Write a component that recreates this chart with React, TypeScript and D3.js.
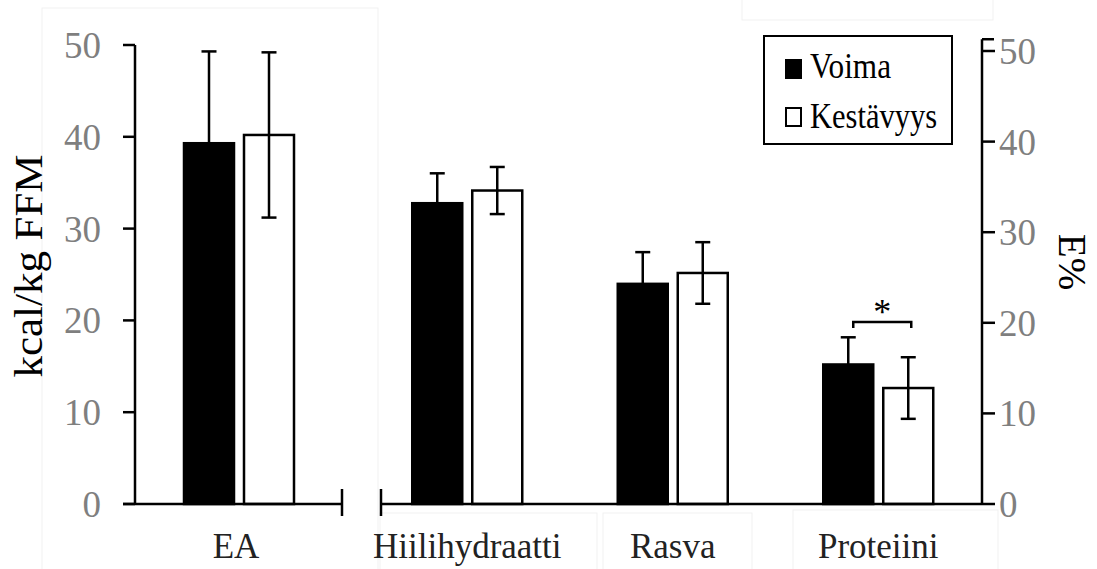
import React from "react";
import * as d3 from "d3";

// Energy availability (kcal/kg FFM) and macronutrient shares (E%) by athlete group
const series = ["Voima", "Kestävyys"];
const eaCategories = ["EA"];
const macroCategories = ["Hiilihydraatti", "Rasva", "Proteiini"];

const eaMeans = [
  [39.3, 40.2], // EA: Voima, Kestävyys
];
const eaSD = [
  [10.0, 9.0],
];

const macroMeans = [
  [33.2, 34.6], // Hiilihydraatti
  [24.3, 25.5], // Rasva
  [15.4, 12.8], // Proteiini
];
const macroSD = [
  [3.3, 2.6],
  [3.5, 3.4],
  [3.0, 3.4],
];

const leftTicks = [0, 10, 20, 30, 40, 50];
const rightTicks = [0, 10, 20, 30, 40, 50];
const rightAxisTop = 51.3;
const sigCategory = "Proteiini";
const sigLevel = 20.1;

const W = 1097;
const H = 569;
const FONT = "'Liberation Serif', 'Times New Roman', serif";
const TICK_GREY = "#7f7f7f";

export default function App() {
  const yL = d3.scaleLinear().domain([0, 50]).range([504, 45]);
  const yR = d3.scaleLinear().domain([0, 50]).range([504, 51]);
  const xEA = d3.scaleBand().domain(eaCategories).range([135, 343]);
  const xMac = d3.scaleBand().domain(macroCategories).range([364.5, 981]);
  const sub = d3.scaleBand().domain(series).range([-55, 55]).paddingInner(1 / 6);

  const axisLeftX = 135;
  const axisRightX = 982;
  const baseY = yL(0);
  const breakLeft = 342;
  const breakRight = 381;

  const drawGroup = (
    cat: string,
    center: number,
    means: number[],
    sds: number[],
    y: d3.ScaleLinear<number, number>
  ) =>
    series.map((s, j) => {
      const x0 = center + (sub(s) as number);
      const bw = sub.bandwidth();
      const cx = x0 + bw / 2;
      const m = means[j];
      const sd = sds[j];
      return (
        <g key={cat + s}>
          <rect
            x={x0}
            y={y(m)}
            width={bw}
            height={y(0) - y(m)}
            fill={j === 0 ? "#000" : "#fff"}
            stroke="#000"
            strokeWidth={2.5}
          />
          <line x1={cx} x2={cx} y1={y(m + sd)} y2={y(m - sd)} stroke="#000" strokeWidth={2.5} />
          <line x1={cx - 7.5} x2={cx + 7.5} y1={y(m + sd)} y2={y(m + sd)} stroke="#000" strokeWidth={2.5} />
          <line x1={cx - 7.5} x2={cx + 7.5} y1={y(m - sd)} y2={y(m - sd)} stroke="#000" strokeWidth={2.5} />
        </g>
      );
    });

  const sigCenter = xMac(sigCategory)! + xMac.bandwidth() / 2;
  const sigX1 = sigCenter + (sub(series[0]) as number) + sub.bandwidth() / 2 + 5;
  const sigX2 = sigCenter + (sub(series[1]) as number) + sub.bandwidth() / 2 + 3;

  return (
    <svg width={W} height={H} style={{ display: "block", background: "#fff" }} fontFamily={FONT}>
      <style>{`body{margin:0}`}</style>

      {/* faint frame edges of the pasted panels */}
      <g fill="none" stroke="#f1f1f1" strokeWidth={1}>
        <rect x={42} y={8} width={336} height={570} />
        <rect x={380} y={513} width={217} height={60} />
        <rect x={603} y={513} width={149} height={60} />
        <rect x={793} y={510} width={205} height={65} />
        <rect x={742} y={-5} width={251} height={25} />
      </g>

      {/* left axis */}
      <line x1={axisLeftX} x2={axisLeftX} y1={yL(50)} y2={baseY} stroke="#000" strokeWidth={2.5} />
      {leftTicks.map((t) => (
        <g key={"l" + t}>
          <line x1={axisLeftX - 12} x2={axisLeftX} y1={yL(t)} y2={yL(t)} stroke="#000" strokeWidth={2.5} />
          <text x={101} y={yL(t)} dy="0.35em" textAnchor="end" fontSize={37} fill={TICK_GREY}>
            {t}
          </text>
        </g>
      ))}

      {/* right axis */}
      <line x1={axisRightX} x2={axisRightX} y1={yR(rightAxisTop)} y2={baseY} stroke="#000" strokeWidth={2.5} />
      <line x1={axisRightX} x2={axisRightX + 12} y1={yR(rightAxisTop)} y2={yR(rightAxisTop)} stroke="#000" strokeWidth={2.5} />
      {rightTicks.map((t) => (
        <g key={"r" + t}>
          <line x1={axisRightX} x2={axisRightX + 13} y1={yR(t)} y2={yR(t)} stroke="#000" strokeWidth={2.5} />
          <text x={999} y={yR(t)} dy="0.35em" textAnchor="start" fontSize={37} fill={TICK_GREY}>
            {t}
          </text>
        </g>
      ))}

      {/* bars */}
      {eaCategories.map((c, i) => drawGroup(c, xEA(c)! + xEA.bandwidth() / 2, eaMeans[i], eaSD[i], yL))}
      {macroCategories.map((c, i) =>
        drawGroup(c, xMac(c)! + xMac.bandwidth() / 2, macroMeans[i], macroSD[i], yR)
      )}

      {/* broken baseline */}
      <line x1={axisLeftX - 12} x2={breakLeft} y1={baseY} y2={baseY} stroke="#000" strokeWidth={2.5} />
      <line x1={breakLeft} x2={breakLeft} y1={baseY - 15} y2={baseY + 12} stroke="#000" strokeWidth={2.5} />
      <line x1={breakRight} x2={axisRightX} y1={baseY} y2={baseY} stroke="#000" strokeWidth={2.5} />
      <line x1={breakRight} x2={breakRight} y1={baseY - 15} y2={baseY + 12} stroke="#000" strokeWidth={2.5} />

      {/* category labels */}
      {eaCategories.map((c) => (
        <text key={c} x={xEA(c)! + xEA.bandwidth() / 2 - 3} y={558} textAnchor="middle" fontSize={35} fill="#222">
          {c}
        </text>
      ))}
      {macroCategories.map((c) => (
        <text key={c} x={xMac(c)! + xMac.bandwidth() / 2} y={558} textAnchor="middle" fontSize={35} fill="#222">
          {c}
        </text>
      ))}

      {/* significance bracket */}
      <path
        d={`M${sigX1},${yR(sigLevel) + 6}V${yR(sigLevel)}H${sigX2}V${yR(sigLevel) + 6}`}
        fill="none"
        stroke="#000"
        strokeWidth={2.5}
      />
      <text x={(sigX1 + sigX2) / 2} y={yR(sigLevel) + 2} textAnchor="middle" fontSize={36} fill="#000">
        *
      </text>

      {/* axis titles */}
      <text
        transform={`translate(42,266) rotate(-90)`}
        textAnchor="middle"
        fontSize={40}
        textLength={223}
        lengthAdjust="spacingAndGlyphs"
        fill="#000"
      >
        kcal/kg FFM
      </text>
      <text transform={`translate(1059,262) rotate(90)`} textAnchor="middle" fontSize={39} fill="#000">
        E%
      </text>

      {/* legend */}
      <rect x={764} y={36} width={188} height={108} fill="#fff" stroke="#000" strokeWidth={2} />
      {series.map((s, j) => (
        <g key={"lg" + s}>
          <rect
            x={786}
            y={60 + j * 48}
            width={15}
            height={18}
            fill={j === 0 ? "#000" : "#fff"}
            stroke="#000"
            strokeWidth={2}
          />
          <text
            x={810}
            y={78 + j * 50}
            fontSize={35}
            textLength={j === 0 ? 81 : 127}
            lengthAdjust="spacingAndGlyphs"
            fill="#000"
          >
            {s}
          </text>
        </g>
      ))}
    </svg>
  );
}
